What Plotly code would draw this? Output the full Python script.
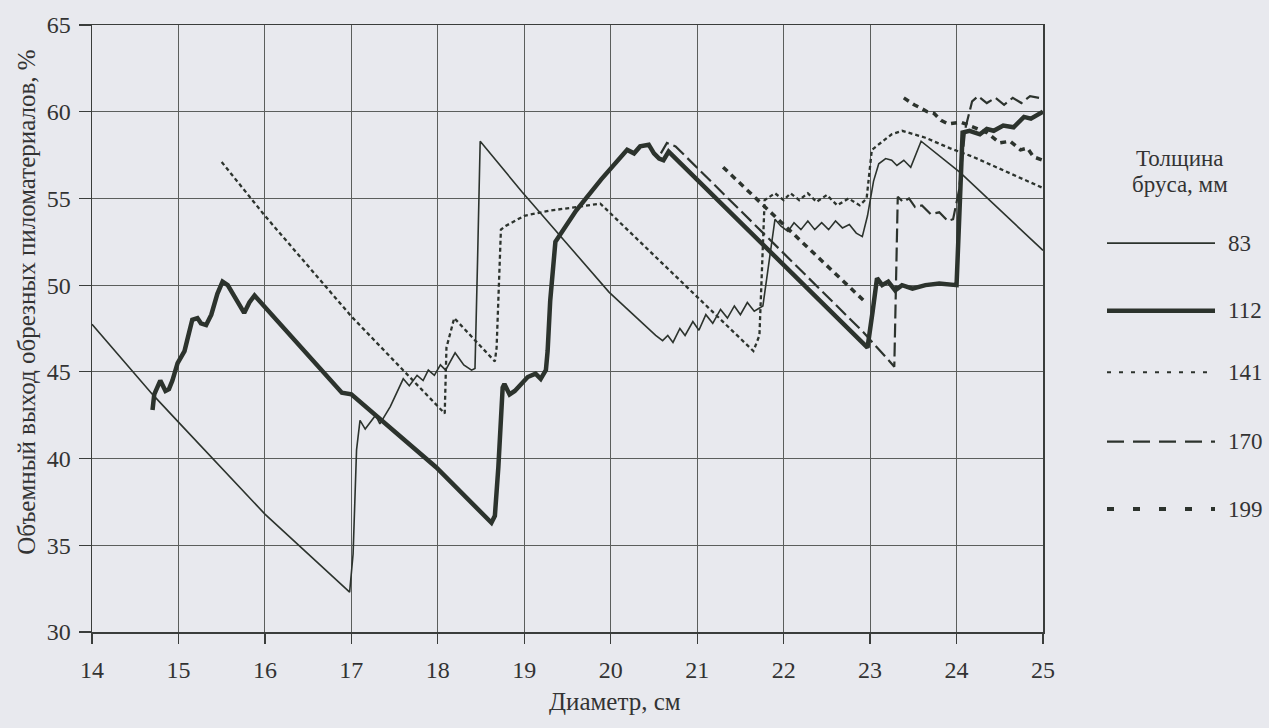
import plotly.graph_objects as go

# ---------------- data ----------------
x_ticks = list(range(14, 26))
y_ticks = list(range(30, 70, 5))

x83 = [14.0, 14.7, 15.0, 16.0, 16.98, 17.02, 17.06, 17.1, 17.16, 17.22, 17.28, 17.33, 17.38, 17.45,
       17.6, 17.67, 17.76, 17.83, 17.89, 17.96, 18.03, 18.09, 18.2, 18.3, 18.39, 18.43, 18.46, 18.49,
       18.97, 19.98, 20.52, 20.6, 20.66, 20.72, 20.8, 20.86, 20.95, 21.02, 21.1, 21.18, 21.27, 21.35,
       21.43, 21.5, 21.58, 21.66, 21.76, 21.82, 21.9, 21.97, 22.05, 22.12, 22.2, 22.28, 22.36, 22.44,
       22.52, 22.6, 22.68, 22.76, 22.84, 22.91, 22.97, 23.04, 23.1, 23.18, 23.25, 23.31, 23.39, 23.47,
       23.55, 23.59, 24.04, 25.0]
y83 = [47.75, 43.7, 42.1, 36.8, 32.3, 34.5, 40.5, 42.2, 41.7, 42.1, 42.5, 42.0, 42.4, 43.0,
       44.6, 44.2, 44.8, 44.5, 45.1, 44.8, 45.4, 45.1, 46.1, 45.4, 45.1, 45.2, 51.5, 58.3,
       55.4, 49.6, 47.1, 46.8, 47.1, 46.7, 47.5, 47.1, 47.9, 47.4, 48.3, 47.8, 48.6, 48.1,
       48.8, 48.3, 49.0, 48.5, 48.8, 51.0, 53.8, 53.4, 53.1, 53.6, 53.2, 53.7, 53.2, 53.6,
       53.2, 53.7, 53.3, 53.5, 53.0, 52.8, 54.0, 56.0, 57.0, 57.3, 57.2, 56.9, 57.2, 56.8,
       57.8, 58.3, 56.5, 52.0]

x112 = [14.7, 14.72, 14.79, 14.85, 14.89, 14.93, 14.99, 15.07, 15.1, 15.16, 15.22, 15.26, 15.32,
        15.38, 15.45, 15.51, 15.57, 15.65, 15.76, 15.82, 15.88, 16.89, 17.0, 17.98, 18.62, 18.66,
        18.7, 18.75, 18.77, 18.83, 18.89, 19.04, 19.13, 19.19, 19.25, 19.27, 19.3, 19.36, 19.6,
        19.89, 20.19, 20.27, 20.34, 20.44, 20.5, 20.56, 20.61, 20.67, 22.97, 23.03, 23.08, 23.14,
        23.21, 23.29, 23.37, 23.49, 23.64, 23.8, 23.96, 24.0, 24.04, 24.07, 24.15, 24.27, 24.35,
        24.43, 24.54, 24.66, 24.78, 24.86, 25.0]
y112 = [42.8, 43.7, 44.5, 43.9, 44.0, 44.5, 45.5, 46.2, 46.8, 48.0, 48.1, 47.8, 47.7,
        48.3, 49.5, 50.2, 50.0, 49.3, 48.4, 49.0, 49.4, 43.8, 43.7, 39.5, 36.3, 36.7,
        39.5, 44.1, 44.3, 43.7, 43.9, 44.7, 44.9, 44.6, 45.1, 46.2, 49.1, 52.5, 54.3,
        56.1, 57.8, 57.6, 58.0, 58.1, 57.6, 57.3, 57.2, 57.7, 46.4, 48.5, 50.4, 50.0,
        50.2, 49.7, 50.0, 49.8, 50.0, 50.1, 50.0, 50.0, 55.0, 58.8, 58.9, 58.7, 59.0,
        58.9, 59.2, 59.1, 59.7, 59.6, 60.0]

x141 = [15.5, 16.0, 17.0, 18.08, 18.1, 18.19, 18.66, 18.68, 18.73, 18.78, 19.0, 19.3, 19.6, 19.88,
        21.65, 21.72, 21.78, 21.9, 22.0, 22.08, 22.18, 22.28, 22.38, 22.5, 22.62, 22.75, 22.88,
        22.96, 23.02, 23.12, 23.25, 23.37, 23.64, 23.92, 24.19, 25.0]
y141 = [57.1, 54.0, 48.2, 42.6, 46.4, 48.1, 45.6, 46.4, 53.2, 53.4, 54.0, 54.3, 54.5, 54.7,
        46.2, 47.1, 54.9, 55.3, 54.9, 55.3, 54.9, 55.3, 54.8, 55.2, 54.6, 55.0, 54.6,
        55.0, 57.8, 58.2, 58.7, 58.9, 58.5, 57.9, 57.4, 55.6]

x170 = [20.58, 20.65, 20.75, 22.92, 23.28, 23.32, 23.38, 23.45, 23.52, 23.6, 23.7, 23.8, 23.9,
        23.96, 24.03, 24.1, 24.18, 24.25, 24.35, 24.45, 24.55, 24.65, 24.75, 24.85, 25.0]
y170 = [57.6, 58.2, 58.0, 47.3, 45.3, 55.1, 54.8, 55.0, 54.5, 54.6, 54.1, 54.2, 53.7,
        53.8, 55.5, 59.0, 60.6, 60.9, 60.5, 60.8, 60.4, 60.8, 60.5, 60.9, 60.75]

x199 = [21.3, 22.95, None, 23.39, 23.51, 23.59, 23.66, 23.74, 23.82, 23.9, 24.05, 24.2, 24.35,
        24.5, 24.62, 24.74, 24.82, 24.89, 25.0]
y199 = [56.8, 49.0, None, 60.8, 60.4, 60.2, 60.0, 59.9, 59.5, 59.3, 59.4, 59.1, 58.8,
        58.2, 58.3, 57.8, 57.9, 57.4, 57.2]

legend_labels = ["83", "112", "141", "170", "199"]
legend_title = ["Толщина", "бруса, мм"]
x_title = "Диаметр, см"
y_title = "Объемный выход обрезных пиломатериалов, %"

# ---------------- styling ----------------
INK = "#2c332d"
BG = "#e8e9ee"
FONT = "Liberation Serif"

styles = {
    "83": dict(width=1.6, dash="solid"),
    "112": dict(width=4.5, dash="solid"),
    "141": dict(width=2.3, dash="4px,3px"),
    "170": dict(width=2.2, dash="14px,5px"),
    "199": dict(width=3.5, dash="6px,5px"),
}
legend_styles = {
    "83": dict(width=1.8, dash="solid"),
    "112": dict(width=4.5, dash="solid"),
    "141": dict(width=2.0, dash="4px,8px"),
    "170": dict(width=2.2, dash="17px,9px"),
    "199": dict(width=4.0, dash="7px,19px"),
}

series = [("83", x83, y83), ("112", x112, y112), ("141", x141, y141),
          ("170", x170, y170), ("199", x199, y199)]

fig = go.Figure()
for name, xs, ys in series:
    fig.add_trace(go.Scatter(
        x=xs, y=ys, mode="lines", name=name, showlegend=False,
        connectgaps=False,
        line=dict(color=INK, width=styles[name]["width"], dash=styles[name]["dash"]),
        hoverinfo="skip",
    ))

L, R, T, B = 92, 226, 20, 96
W, H = 1269, 728
pw, ph = W - L - R, H - T - B


def px_to_paper_x(px):
    return (px - L) / pw


def px_to_paper_y(py):
    return (H - B - py) / ph


# legend (drawn manually, as in the scanned figure)
leg_y_px = [240, 308, 370, 440, 508]
for lab, py in zip(legend_labels, leg_y_px):
    st = legend_styles[lab]
    fig.add_shape(type="line", xref="paper", yref="paper",
                  x0=px_to_paper_x(1107), x1=px_to_paper_x(1215),
                  y0=px_to_paper_y(py), y1=px_to_paper_y(py),
                  line=dict(color=INK, width=st["width"], dash=st["dash"]))
    fig.add_annotation(xref="paper", yref="paper", x=px_to_paper_x(1226), y=px_to_paper_y(py),
                       text=lab, showarrow=False, xanchor="left", yanchor="middle",
                       font=dict(family=FONT, size=23, color="#333"))

for txt, py in zip(legend_title, [155, 181]):
    fig.add_annotation(xref="paper", yref="paper", x=px_to_paper_x(1180), y=px_to_paper_y(py),
                       text=txt, showarrow=False, xanchor="center", yanchor="middle",
                       font=dict(family=FONT, size=23, color="#333"))

fig.add_annotation(xref="paper", yref="paper", x=px_to_paper_x(615), y=px_to_paper_y(702),
                   text=x_title, showarrow=False, xanchor="center", yanchor="middle",
                   font=dict(family=FONT, size=25, color="#333"))
fig.add_annotation(xref="paper", yref="paper", x=px_to_paper_x(27), y=px_to_paper_y(300),
                   text=y_title, showarrow=False, textangle=-90, xanchor="center", yanchor="middle",
                   font=dict(family=FONT, size=25, color="#333"))

axis_common = dict(
    showgrid=True, gridcolor="#5b5e5c", gridwidth=1,
    showline=True, linecolor="#3a3d3b", linewidth=1.5, mirror=True,
    ticks="outside", tickcolor="#3a3d3b", tickwidth=1.2,
    tickfont=dict(family=FONT, size=24, color="#333"),
    zeroline=False,
)

fig.update_layout(
    width=W, height=H,
    margin=dict(l=L, r=R, t=T, b=B),
    paper_bgcolor=BG, plot_bgcolor=BG,
    xaxis=dict(range=[14, 25], tickmode="array", tickvals=x_ticks,
               ticktext=[str(v) for v in x_ticks], ticklen=10, ticklabelstandoff=6,
               **axis_common),
    yaxis=dict(range=[30, 65], tickmode="array", tickvals=y_ticks,
               ticktext=[str(v) for v in y_ticks], ticklen=12, ticklabelstandoff=3,
               **axis_common),
    showlegend=False,
)

fig.write_html(
    "out.html",
    config={"displayModeBar": False, "staticPlot": True},
    post_script="document.body.style.margin='0';document.body.style.overflow='hidden';"
                "document.body.style.background='" + BG + "';",
)
